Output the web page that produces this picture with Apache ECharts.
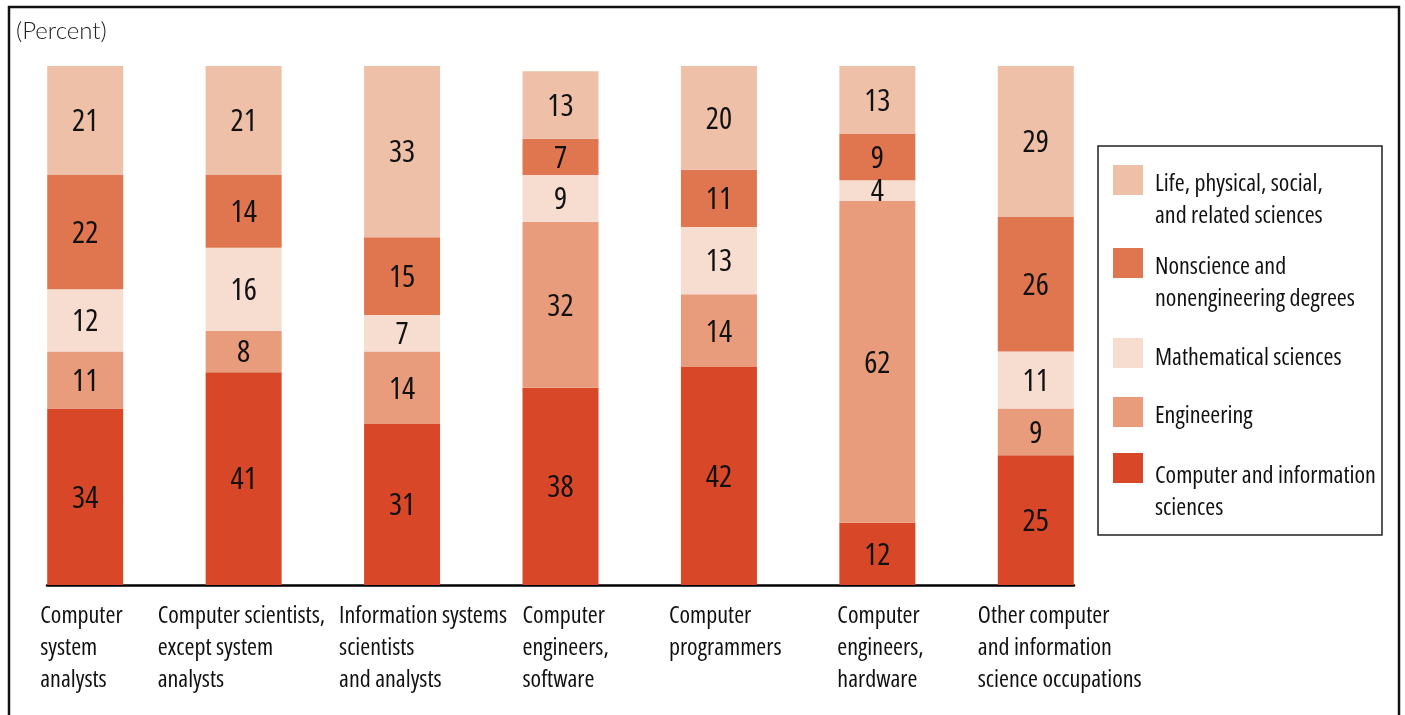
<!DOCTYPE html>
<html>
<head>
<meta charset="utf-8">
<title>Field of highest degree by computer occupation</title>
<script src="https://cdn.jsdelivr.net/npm/echarts@6/dist/echarts.min.js"></script>
<style>
  html, body { margin: 0; padding: 0; background: #fff; }
  #chart { width: 1405px; height: 715px; }
</style>
</head>
<body>
<div id="chart"></div>
<script>
// Occupations (x axis), one entry per bar; "\n" marks the line breaks of the label
const categories = [
  'Computer\nsystem\nanalysts',
  'Computer scientists,\nexcept system\nanalysts',
  'Information systems\nscientists\nand analysts',
  'Computer\nengineers,\nsoftware',
  'Computer\nprogrammers',
  'Computer\nengineers,\nhardware',
  'Other computer\nand information\nscience occupations'
];

// Share of workers (percent) by field of highest degree, bottom segment first
const computerInfo = [34, 41, 31, 38, 42, 12, 25];
const engineering  = [11, 8, 14, 32, 14, 62, 9];
const mathematical = [12, 16, 7, 9, 13, 4, 11];
const nonscience   = [22, 14, 15, 7, 11, 9, 26];
const lifePhysical = [21, 21, 33, 13, 20, 13, 29];

const seriesNames = [
  'Computer and information sciences',
  'Engineering',
  'Mathematical sciences',
  'Nonscience and nonengineering degrees',
  'Life, physical, social, and related sciences'
];
const legendLabels = {
  'Life, physical, social, and related sciences': 'Life, physical, social,\nand related sciences',
  'Nonscience and nonengineering degrees': 'Nonscience and\nnonengineering degrees',
  'Mathematical sciences': 'Mathematical sciences',
  'Engineering': 'Engineering',
  'Computer and information sciences': 'Computer and information\nsciences'
};

const colors = ['#D84828', '#E89C7B', '#F7DCD0', '#DF764F', '#EEC0A8'];

// condensed face of Open Sans (the stretch keyword goes into the canvas font string)
const FONT = "'Open Sans', 'Roboto Condensed', sans-serif";
const STRETCH = 'condensed';

// left-aligned label blocks: how far each block starts left of its bar centre
const labelIndent = [45, 86, 63, 38, 50, 40, 58];
const labelRich = {};
labelIndent.forEach(function (w, i) {
  labelRich['l' + i] = {
    width: w, align: 'left', fontSize: 24, lineHeight: 32,
    fontFamily: FONT, fontWeight: STRETCH, color: '#111'
  };
});

const values = [computerInfo, engineering, mathematical, nonscience, lifePhysical];

const chart = echarts.init(document.getElementById('chart'), null, { renderer: 'canvas' });

const series = values.map(function (arr, k) {
  return {
    name: seriesNames[k],
    type: 'bar',
    stack: 'total',
    data: arr,
    barWidth: 76,
    xAxisIndex: 0,
    yAxisIndex: 0,
    itemStyle: { color: colors[k], borderWidth: 0 },
    emphasis: { disabled: true },
    label: {
      show: true,
      position: 'inside',
      offset: [0, 2],
      fontSize: 31,
      fontFamily: FONT,
      fontWeight: STRETCH,
      color: '#111'
    }
  };
});

// legend rows: an empty spacer line of height `lead` above each label puts the swatch
// level with the label's first line; paddings set the spacing between rows
const legendRows = [
  { name: seriesNames[4], lead: 40, pad: [0, 0, 0, 7] },
  { name: seriesNames[3], lead: 40, pad: [0, 0, 0, 7] },
  { name: seriesNames[2], lead: 10, pad: [38, 0, 38, 7] },
  { name: seriesNames[1], lead: 8,  pad: [1, 0, 1, 7] },
  { name: seriesNames[0], lead: 48, pad: [0, 0, 0, 7] }
];
const legendRich = {
  t: { fontFamily: FONT, fontWeight: STRETCH, fontSize: 24, lineHeight: 32, color: '#111' }
};
const leadKey = {};
legendRows.forEach(function (r, i) {
  legendRich['e' + i] = { fontSize: 10, lineHeight: r.lead };
  leadKey[r.name] = 'e' + i;
});

chart.setOption({
  animation: false,
  backgroundColor: '#fff',
  title: {
    text: '(Percent)',
    left: 16,
    top: 19,
    padding: 0,
    textStyle: {
      fontFamily: "Lato, 'Open Sans', 'Liberation Sans', sans-serif",
      fontWeight: 300,
      fontSize: 24,
      color: '#222'
    }
  },
  grid: [
    { left: 6, right: 290, top: 66, bottom: 130 },
    { left: 47, right: 331, top: 66, bottom: 130 }
  ],
  xAxis: [
    {
      type: 'category',
      gridIndex: 0,
      data: categories,
      axisLine: { show: false },
      axisTick: { show: false },
      splitLine: { show: false },
      axisLabel: {
        interval: 0,
        margin: 15,
        align: 'right',
        rich: labelRich,
        formatter: function (value, idx) {
          return value.split('\n').map(function (line) {
            return '{l' + idx + '|' + line + '}';
          }).join('\n');
        }
      }
    },
    {
      // baseline under the bars
      type: 'value',
      gridIndex: 1,
      min: 0,
      max: 1,
      axisLine: { show: true, onZero: false, lineStyle: { color: '#000', width: 2.5 } },
      axisTick: { show: false },
      axisLabel: { show: false },
      splitLine: { show: false }
    }
  ],
  yAxis: [
    { type: 'value', gridIndex: 0, min: 0, max: 100, show: false },
    { type: 'value', gridIndex: 1, min: 0, max: 1, show: false }
  ],
  legend: {
    orient: 'vertical',
    left: 1113,
    top: 128,
    padding: 0,
    itemWidth: 30,
    itemHeight: 30,
    itemGap: -21,
    icon: 'rect',
    selectedMode: false,
    data: legendRows.map(function (r) {
      return { name: r.name, textStyle: { padding: r.pad } };
    }),
    formatter: function (name) {
      return '{' + leadKey[name] + '|}\n' + legendLabels[name].split('\n').map(function (line) {
        return '{t|' + line + '}';
      }).join('\n');
    },
    textStyle: {
      fontFamily: FONT,
      fontWeight: STRETCH,
      fontSize: 24,
      lineHeight: 32,
      color: '#111',
      backgroundColor: 'rgba(255,255,255,0)',
      rich: legendRich
    }
  },
  graphic: [
    {
      type: 'rect',
      silent: true,
      shape: { x: 9, y: 7, width: 1390, height: 760 },
      style: { fill: 'none', stroke: '#111', lineWidth: 2.5 }
    },
    {
      type: 'rect',
      silent: true,
      shape: { x: 1098, y: 146, width: 284, height: 389 },
      style: { fill: 'none', stroke: '#222', lineWidth: 1.5 }
    }
  ],
  series: series
});
</script>
</body>
</html>
